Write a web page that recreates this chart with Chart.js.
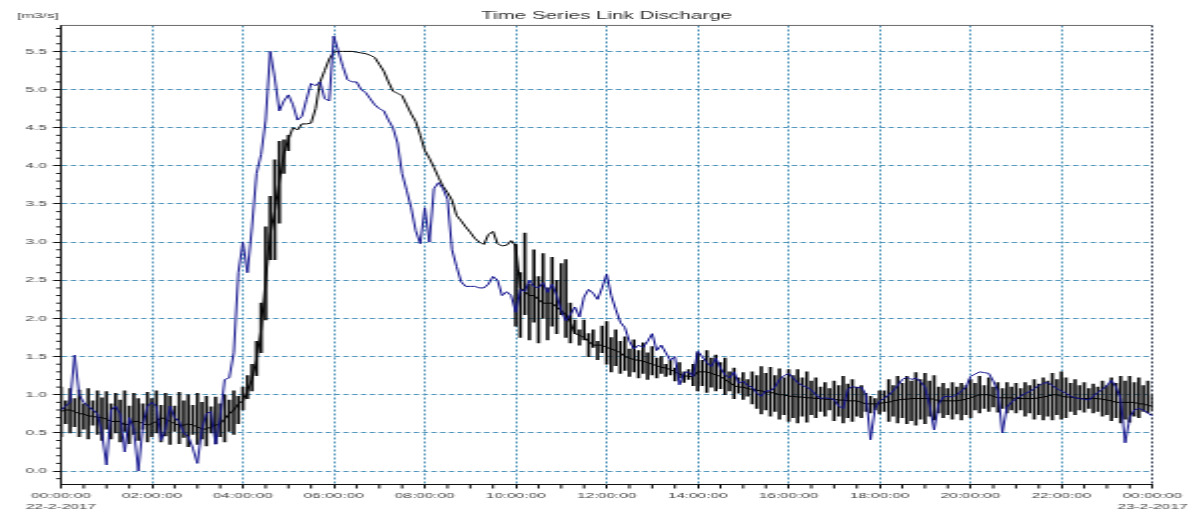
<!DOCTYPE html>
<html>
<head>
<meta charset="utf-8">
<title>Time Series Link Discharge</title>
<script src="https://cdn.jsdelivr.net/npm/chart.js@4/dist/chart.umd.min.js"></script>
<style>
  html, body { margin: 0; padding: 0; background: #fff; overflow: hidden; }
  #chart { display: block; }
</style>
</head>
<body>
<!-- the plot is drawn on a narrow canvas and widened to the page width -->
<canvas id="chart" width="596" height="512" style="width:1191px;height:512px"></canvas>
<script>
// Sampling interval of all records, in minutes from 22-2-2017 00:00
const STEP_MINUTES = 6;

// Computed link discharge [m3/s] (black): running level
const blackLevel = [
  0.78, 0.80, 0.80, 0.78, 0.75, 0.75, 0.72, 0.72, 0.70, 0.70,
  0.68, 0.65, 0.65, 0.65, 0.60, 0.62, 0.65, 0.65, 0.62, 0.60,
  0.62, 0.65, 0.70, 0.68, 0.65, 0.62, 0.60, 0.60, 0.62, 0.60,
  0.58, 0.55, 0.55, 0.58, 0.60, 0.62, 0.68, 0.75, 0.80, 0.88,
  0.92, 1.05, 1.20, 1.45, 1.85, 2.50, 3.10, 3.40, 3.80, 4.15,
  4.35, 4.50, 4.47, 4.55, 4.55, 4.56, 4.75, 5.10, 5.25, 5.40,
  5.49, 5.50, 5.50, 5.50, 5.50, 5.49, 5.48, 5.47, 5.45, 5.42,
  5.33, 5.24, 5.10, 4.98, 4.95, 4.92, 4.80, 4.68, 4.58, 4.40,
  4.20, 4.10, 3.98, 3.85, 3.73, 3.65, 3.55, 3.35, 3.28, 3.20,
  3.13, 3.05, 3.00, 2.97, 3.10, 3.14, 2.98, 2.95, 2.96, 3.02,
  2.95, 2.40, 2.35, 2.30, 2.30, 2.25, 2.20, 2.20, 2.20, 2.15,
  2.10, 2.05, 1.95, 1.80, 1.78, 1.75, 1.70, 1.65, 1.65, 1.65,
  1.62, 1.60, 1.58, 1.55, 1.50, 1.48, 1.46, 1.45, 1.44, 1.42,
  1.40, 1.38, 1.36, 1.35, 1.33, 1.30, 1.27, 1.25, 1.24, 1.24,
  1.30, 1.30, 1.30, 1.28, 1.26, 1.24, 1.20, 1.16, 1.12, 1.10,
  1.10, 1.08, 1.07, 1.06, 1.05, 1.04, 1.03, 1.02, 1.00, 1.00,
  0.98, 0.98, 0.97, 0.97, 0.96, 0.96, 0.95, 0.95, 0.94, 0.94,
  0.94, 0.93, 0.93, 0.92, 0.92, 0.92, 0.90, 0.88, 0.88, 0.88,
  0.88, 0.90, 0.90, 0.92, 0.93, 0.94, 0.94, 0.95, 0.95, 0.95,
  0.95, 0.95, 0.94, 0.92, 0.92, 0.92, 0.92, 0.92, 0.93, 0.94,
  0.96, 0.98, 1.00, 1.00, 1.00, 0.98, 0.96, 0.96, 0.96, 0.96,
  0.95, 0.95, 0.95, 0.95, 0.95, 0.96, 0.97, 0.98, 1.00, 1.00,
  0.98, 0.97, 0.97, 0.96, 0.95, 0.95, 0.95, 0.95, 0.95, 0.94,
  0.93, 0.92, 0.90, 0.90, 0.90, 0.90, 0.90, 0.88, 0.88, 0.86,
  0.85
];

// Computed link discharge [m3/s] (black): low and high of each swing, null where steady
const blackSwingLow = [
  0.45, 0.62, 0.50, 0.58, 0.45, 0.55, 0.42, 0.60, 0.48, 0.40,
  0.55, 0.42, 0.50, 0.38, 0.52, 0.36, 0.48, 0.40, 0.55, 0.38,
  0.45, 0.50, 0.38, 0.46, 0.35, 0.52, 0.36, 0.44, 0.32, 0.48,
  0.35, 0.42, 0.33, 0.50, 0.36, 0.45, 0.38, 0.52, 0.48, 0.62,
  0.80, 0.95, 1.05, 1.25, 1.55, 1.98, 2.77, 2.77, 3.25, 3.90,
  4.20, null, null, null, null, null, null, null, null, null,
  null, null, null, null, null, null, null, null, null, null,
  null, null, null, null, null, null, null, null, null, null,
  null, null, null, null, null, null, null, null, null, null,
  null, null, null, null, null, null, null, null, null, null,
  1.90, 1.75, 2.05, 1.72, 1.95, 1.68, 2.00, 1.72, 1.90, 1.80,
  2.05, 1.75, 1.68, 1.80, 1.65, 1.72, 1.50, 1.62, 1.46, 1.55,
  1.40, 1.30, 1.38, 1.28, 1.32, 1.24, 1.30, 1.22, 1.28, 1.20,
  1.26, 1.22, 1.28, 1.24, 1.26, 1.18, 1.22, 1.16, 1.20, 1.12,
  1.05, 1.12, 1.03, 1.10, 1.05, 1.08, 1.00, 1.05, 0.95, 1.02,
  0.94, 0.98, 0.88, 0.82, 0.75, 0.80, 0.72, 0.78, 0.68, 0.74,
  0.65, 0.70, 0.63, 0.72, 0.64, 0.74, 0.70, 0.78, 0.72, 0.80,
  0.66, 0.72, 0.63, 0.70, 0.65, 0.72, 0.70, 0.78, 0.76, 0.80,
  0.75, 0.78, 0.65, 0.72, 0.63, 0.70, 0.62, 0.66, 0.60, 0.68,
  0.62, 0.72, 0.67, 0.76, 0.70, 0.74, 0.68, 0.75, 0.67, 0.74,
  0.70, 0.80, 0.76, 0.82, 0.78, 0.84, 0.77, 0.82, 0.76, 0.80,
  0.76, 0.80, 0.72, 0.76, 0.68, 0.74, 0.67, 0.72, 0.67, 0.74,
  0.68, 0.70, 0.78, 0.74, 0.80, 0.77, 0.82, 0.76, 0.78, 0.72,
  0.74, 0.66, 0.70, 0.63, 0.68, 0.64, 0.72, 0.70, 0.78, 0.76,
  0.80
];
const blackSwingHigh = [
  1.10, 0.92, 1.08, 0.95, 1.06, 0.88, 1.08, 0.92, 1.05, 0.96,
  1.04, 0.88, 1.02, 0.93, 1.05, 0.85, 1.02, 0.95, 0.88, 1.03,
  0.95, 1.05, 0.86, 1.02, 0.98, 0.85, 1.03, 0.92, 1.00, 0.86,
  1.02, 0.90, 0.98, 0.84, 0.97, 0.88, 1.00, 0.93, 1.05, 0.98,
  1.10, 1.25, 1.40, 1.70, 2.20, 3.20, 3.60, 4.08, 4.32, 4.34,
  4.40, null, null, null, null, null, null, null, null, null,
  null, null, null, null, null, null, null, null, null, null,
  null, null, null, null, null, null, null, null, null, null,
  null, null, null, null, null, null, null, null, null, null,
  null, null, null, null, null, null, null, null, null, null,
  2.97, 2.60, 3.12, 2.45, 2.90, 2.55, 2.85, 2.40, 2.80, 2.50,
  2.72, 2.77, 2.20, 1.98, 1.85, 1.98, 1.80, 1.85, 1.70, 1.90,
  1.96, 1.75, 1.85, 1.70, 1.76, 1.60, 1.72, 1.58, 1.68, 1.55,
  1.63, 1.48, 1.50, 1.40, 1.45, 1.35, 1.42, 1.30, 1.33, 1.40,
  1.55, 1.45, 1.58, 1.48, 1.52, 1.42, 1.48, 1.30, 1.35, 1.22,
  1.29, 1.20, 1.30, 1.25, 1.37, 1.28, 1.36, 1.25, 1.34, 1.22,
  1.33, 1.25, 1.33, 1.22, 1.30, 1.18, 1.22, 1.10, 1.16, 1.08,
  1.18, 1.12, 1.24, 1.14, 1.20, 1.10, 1.12, 1.02, 0.98, 0.95,
  1.05, 1.05, 1.20, 1.12, 1.24, 1.15, 1.24, 1.18, 1.29, 1.20,
  1.28, 1.18, 1.25, 1.10, 1.15, 1.08, 1.16, 1.10, 1.15, 1.12,
  1.20, 1.15, 1.24, 1.12, 1.22, 1.10, 1.16, 1.08, 1.16, 1.10,
  1.15, 1.08, 1.16, 1.12, 1.20, 1.14, 1.22, 1.18, 1.28, 1.20,
  1.30, 1.22, 1.15, 1.20, 1.12, 1.16, 1.08, 1.14, 1.10, 1.18,
  1.12, 1.22, 1.15, 1.24, 1.18, 1.24, 1.16, 1.22, 1.12, 1.18,
  1.00
];

// Link discharge [m3/s], second record (blue)
const blueFlow = [
  0.80, 0.85, 0.90, 1.52, 1.00, 0.90, 0.85, 0.80, 0.75, 0.50,
  0.08, 0.80, 0.85, 0.75, 0.25, 0.70, 0.55, 0.00, 0.60, 0.85,
  0.90, 0.85, 0.40, 0.55, 0.85, 0.70, 0.65, 0.50, 0.45, 0.30,
  0.10, 0.55, 0.75, 0.78, 0.35, 0.70, 1.20, 1.22, 1.55, 2.60,
  3.00, 2.60, 3.20, 3.90, 4.15, 4.60, 5.50, 5.15, 4.72, 4.85,
  4.93, 4.80, 4.60, 4.65, 4.87, 5.08, 5.05, 5.10, 4.88, 4.85,
  5.70, 5.50, 5.30, 5.13, 5.10, 5.10, 5.00, 4.96, 4.88, 4.80,
  4.75, 4.72, 4.60, 4.50, 4.30, 3.90, 3.68, 3.45, 3.15, 2.98,
  3.45, 3.00, 3.70, 3.78, 3.70, 3.56, 2.90, 2.68, 2.48, 2.42,
  2.42, 2.42, 2.40, 2.40, 2.45, 2.55, 2.50, 2.30, 2.35, 2.30,
  2.08, 2.38, 2.35, 2.50, 2.42, 2.40, 2.47, 2.34, 2.45, 2.30,
  2.10, 1.97, 2.05, 2.15, 2.02, 2.28, 2.38, 2.33, 2.25, 2.40,
  2.58, 2.30, 2.12, 1.95, 1.88, 1.70, 1.60, 1.65, 1.62, 1.70,
  1.80, 1.58, 1.65, 1.55, 1.45, 1.50, 1.13, 1.29, 1.30, 1.24,
  1.57, 1.50, 1.42, 1.37, 1.48, 1.35, 1.26, 1.22, 1.30, 1.15,
  1.18, 1.12, 1.10, 1.02, 0.98, 1.05, 1.05, 1.10, 1.20, 1.25,
  1.28, 1.22, 1.16, 1.12, 1.10, 1.06, 1.00, 0.95, 0.96, 0.95,
  0.94, 0.85, 0.82, 1.07, 1.11, 1.09, 1.10, 1.00, 0.41, 0.82,
  0.92, 0.95, 1.00, 1.05, 1.12, 1.20, 1.23, 1.20, 1.22, 1.17,
  1.10, 0.86, 0.54, 0.88, 0.97, 0.98, 0.97, 1.00, 1.05, 1.10,
  1.24, 1.27, 1.30, 1.29, 1.28, 1.18, 1.05, 0.50, 0.84, 0.90,
  0.95, 0.98, 1.02, 1.04, 1.08, 1.12, 1.15, 1.16, 1.12, 1.08,
  1.05, 1.02, 0.98, 0.96, 0.95, 0.94, 0.93, 0.98, 1.03, 1.07,
  1.12, 1.19, 1.10, 0.95, 0.37, 0.70, 0.80, 0.82, 0.80, 0.76,
  0.72
];

// Axis extents and tick labelling
const dayLabels = ['22-2-2017', '23-2-2017'];
const timeRange = [0, 1440];          // minutes
const majorTimeStep = 120;            // labelled every 2 hours
const minorTimeStep = 30;
const valueRange = [-0.17, 5.84];     // m3/s
const majorValueStep = 0.5;
const minorValueStep = 0.1;
const unitLabel = '[m3/s]';
const chartTitle = 'Time Series Link Discharge';

const GRID_BLUE = '#4f95bb';
const TEXT_GREY = '#3f3f3f';
const FONT = "'Liberation Sans', Arial, sans-serif";

const times = blackLevel.map((_, i) => i * STEP_MINUTES);
const toPoints = (vals) => vals.map((v, i) => ({ x: times[i], y: v }));
const swingBars = [];
blackSwingLow.forEach((lo, i) => {
  const hi = blackSwingHigh[i];
  if (lo !== null && hi !== null) swingBars.push({ x: times[i], y: [lo, hi] });
});

function clock(minutes) {
  const h = Math.floor(minutes / 60) % 24;
  const m = minutes % 60;
  return String(h).padStart(2, '0') + ':' + String(m).padStart(2, '0') + ':00';
}

// Unit caption, top frame line and the short minor tick marks on both axes
const axisExtras = {
  id: 'axisExtras',
  afterDraw(chart) {
    const { ctx, chartArea, scales: { x, y } } = chart;
    ctx.save();
    ctx.strokeStyle = '#6a6a6a';
    ctx.lineWidth = 1;
    ctx.beginPath();
    ctx.moveTo(chartArea.left, chartArea.top);
    ctx.lineTo(chartArea.right, chartArea.top);
    ctx.stroke();

    ctx.strokeStyle = '#111';
    ctx.beginPath();
    for (let m = timeRange[0] + minorTimeStep; m < timeRange[1]; m += minorTimeStep) {
      if (m % majorTimeStep === 0) continue;
      const px = x.getPixelForValue(m);
      ctx.moveTo(px, chartArea.bottom);
      ctx.lineTo(px, chartArea.bottom + 4.5);
    }
    const kMin = Math.ceil(valueRange[0] / minorValueStep);
    const kMax = Math.floor(valueRange[1] / minorValueStep);
    const ratio = Math.round(majorValueStep / minorValueStep);
    for (let k = kMin; k <= kMax; k++) {
      if (k % ratio === 0) continue;
      const py = y.getPixelForValue(k * minorValueStep);
      ctx.moveTo(chartArea.left, py);
      ctx.lineTo(chartArea.left - 2.4, py);
    }
    ctx.stroke();

    ctx.fillStyle = TEXT_GREY;
    ctx.font = '7.7px ' + FONT;
    ctx.textAlign = 'left';
    ctx.textBaseline = 'middle';
    ctx.fillText(unitLabel, 8.5, 15.5);
    ctx.restore();
  }
};

new Chart(document.getElementById('chart'), {
  type: 'line',
  data: {
    datasets: [
      {
        label: 'blue',
        data: toPoints(blueFlow),
        borderColor: '#15158e',
        borderWidth: 1,
        pointRadius: 0,
        tension: 0,
        order: 0
      },
      {
        label: 'black',
        data: toPoints(blackLevel),
        borderColor: '#000000',
        borderWidth: 1,
        pointRadius: 0,
        tension: 0,
        order: 1
      },
      {
        type: 'bar',
        label: 'black swing',
        data: swingBars,
        backgroundColor: '#0a0a0a',
        borderWidth: 0,
        barThickness: 0.95,
        grouped: false,
        order: 2
      }
    ]
  },
  options: {
    responsive: false,
    devicePixelRatio: 1,
    animation: false,
    events: [],
    layout: { padding: { left: 0, right: 19, top: 0, bottom: 0 } },
    plugins: {
      legend: { display: false },
      tooltip: { enabled: false },
      title: {
        display: true,
        text: chartTitle,
        fullSize: false,
        color: '#333',
        font: { family: FONT, size: 10.3, weight: 'normal', lineHeight: 1.2 },
        padding: { top: 10, bottom: 3.1 }
      }
    },
    scales: {
      x: {
        type: 'linear',
        min: timeRange[0],
        max: timeRange[1],
        offset: false,
        afterFit(scale) { scale.height = 28; },
        border: { display: true, color: '#111', width: 1, dash: [2, 2] },
        grid: {
          offset: false,
          color: (c) => c.tick && c.tick.value === timeRange[0] ? 'rgba(0,0,0,0)'
                      : (c.tick && c.tick.value === timeRange[1] ? '#2a3550' : GRID_BLUE),
          lineWidth: 1,
          drawTicks: true,
          tickLength: 4.5,
          tickColor: '#111',
          tickBorderDash: []
        },
        ticks: {
          stepSize: majorTimeStep,
          includeBounds: false,
          autoSkip: false,
          maxRotation: 0,
          padding: 1.8,
          color: TEXT_GREY,
          font: { family: FONT, size: 7.7, lineHeight: 1.47 },
          callback(value) {
            if (value === timeRange[0]) return [clock(value), dayLabels[0]];
            if (value === timeRange[1]) return [clock(value), dayLabels[1]];
            return clock(value);
          }
        }
      },
      y: {
        type: 'linear',
        min: valueRange[0],
        max: valueRange[1],
        afterFit(scale) { scale.width = 30.5; },
        border: { display: true, color: '#111', width: 1, dash: [2.7, 1.7] },
        grid: {
          color: GRID_BLUE,
          lineWidth: 1,
          drawTicks: true,
          tickLength: 4,
          tickColor: '#111',
          tickBorderDash: []
        },
        ticks: {
          stepSize: majorValueStep,
          includeBounds: false,
          padding: 3,
          color: TEXT_GREY,
          font: { family: FONT, size: 7.7 },
          callback(value) { return value.toFixed(1); }
        }
      }
    }
  },
  plugins: [axisExtras]
});
</script>
</body>
</html>
